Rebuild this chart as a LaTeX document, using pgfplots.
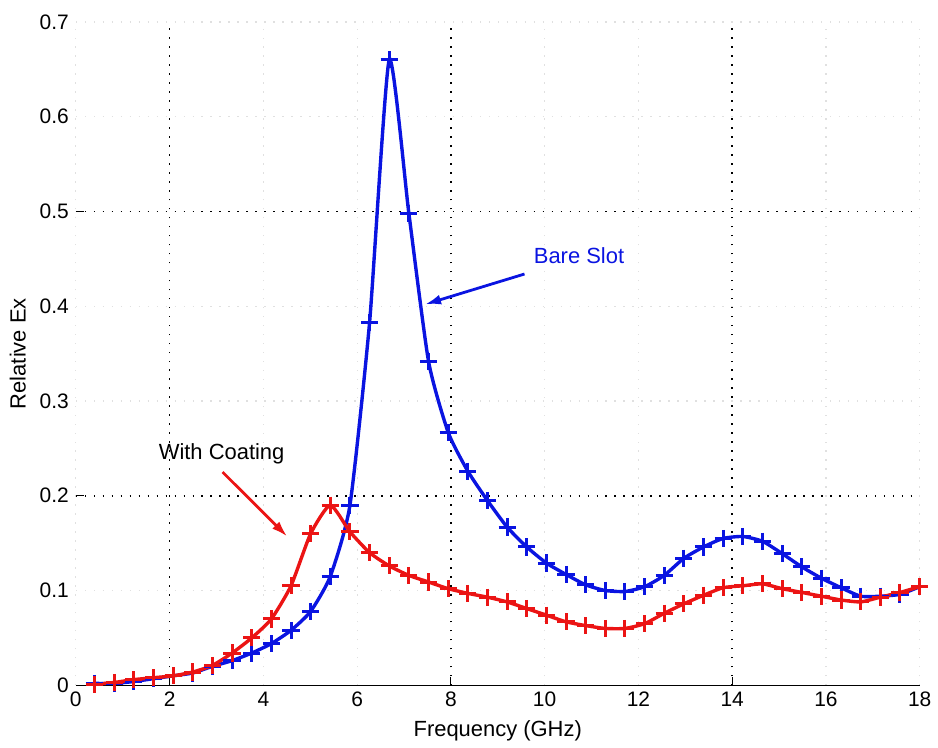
\documentclass[border=0pt]{standalone}
\usepackage{pgfplots}
\pgfplotsset{compat=1.18}
\usepackage{fontspec}
\setmainfont{Liberation Sans}
\usetikzlibrary{arrows.meta}
\definecolor{bslot}{RGB}{10,20,225}
\definecolor{coat}{RGB}{235,20,20}
\begin{document}
\begin{tikzpicture}
\begin{axis}[
  scale only axis,
  width=423pt, height=332.5pt,
  xmin=0, xmax=18, ymin=0, ymax=0.7,
  xtick={0,2,...,18},
  ytick={0,0.1,...,0.7},
  yticklabel style={/pgf/number format/fixed},
  /pgf/number format/assume math mode=true,
  tick label style={font=\fontsize{10.5}{12}\selectfont},
  label style={font=\fontsize{11}{13}\selectfont},
  xlabel={Frequency (GHz)},
  ylabel={Relative Ex},
  axis x line*=bottom, axis y line*=left,
  x axis line style={-, line width=0.8pt},
  y axis line style={draw=none},
  major tick length=0pt,
  tick style={black, line width=0.6pt},
  grid=major,
  major grid style={black!12, line width=0.6pt, dash pattern=on 0.7pt off 3.8pt},
  extra x ticks={2,8,14},
  extra x tick labels={},
  extra y ticks={0.2,0.5},
  extra y tick labels={},
  extra tick style={major tick length=4pt, tick align=inside, grid=major,
    major grid style={black, line width=0.8pt, dash pattern=on 0.8pt off 3.7pt}},
  clip=false,
]
\addplot[bslot, line width=1.7pt, smooth, tension=0.35, mark=+, mark size=4.3pt,
  mark options={solid, line width=1.5pt}] coordinates {
(0.400,0.002) (0.819,0.002) (1.238,0.004) (1.657,0.007) (2.076,0.010)
(2.495,0.013) (2.914,0.020) (3.333,0.026) (3.752,0.034) (4.171,0.044)
(4.590,0.058) (5.009,0.078) (5.428,0.115) (5.847,0.190) (6.266,0.383)
(6.685,0.660) (7.104,0.498) (7.523,0.342) (7.942,0.267) (8.361,0.226)
(8.780,0.195) (9.199,0.167) (9.618,0.146) (10.037,0.129) (10.456,0.117)
(10.875,0.106) (11.294,0.100) (11.713,0.099) (12.132,0.104) (12.551,0.116)
(12.970,0.134) (13.389,0.146) (13.808,0.155) (14.227,0.157) (14.646,0.152)
(15.065,0.139) (15.484,0.125) (15.903,0.113) (16.322,0.103) (16.741,0.094)
(17.160,0.094) (17.579,0.096) (17.998,0.104)
};
\addplot[coat, line width=1.7pt, smooth, tension=0.35, mark=+, mark size=4.3pt,
  mark options={solid, line width=1.5pt}] coordinates {
(0.400,0.001) (0.819,0.003) (1.238,0.006) (1.657,0.008) (2.076,0.010)
(2.495,0.014) (2.914,0.021) (3.333,0.034) (3.752,0.050) (4.171,0.070)
(4.590,0.105) (5.009,0.160) (5.428,0.190) (5.847,0.162) (6.266,0.140)
(6.685,0.126) (7.104,0.116) (7.523,0.109) (7.942,0.102) (8.361,0.097)
(8.780,0.093) (9.199,0.088) (9.618,0.081) (10.037,0.074) (10.456,0.067)
(10.875,0.063) (11.294,0.060) (11.713,0.060) (12.132,0.065) (12.551,0.076)
(12.970,0.086) (13.389,0.095) (13.808,0.103) (14.227,0.105) (14.646,0.107)
(15.065,0.102) (15.484,0.098) (15.903,0.094) (16.322,0.090) (16.741,0.088)
(17.160,0.093) (17.579,0.098) (17.998,0.104)
};
\draw[bslot, line width=1.4pt, -{Latex[length=8pt,width=5pt]}] (axis cs:9.57,0.434) -- (axis cs:7.45,0.402);
\node[bslot, anchor=west, font=\fontsize{11}{13}\selectfont] at (axis cs:9.62,0.453) {Bare Slot};
\draw[coat, line width=1.4pt, -{Latex[length=8pt,width=5pt]}] (axis cs:3.13,0.225) -- (axis cs:4.51,0.157);
\node[black, font=\fontsize{11}{13}\selectfont] at (axis cs:3.11,0.244) {With Coating};
\end{axis}
\path (current axis.south west) ++(-38pt,-30pt) rectangle ++(469pt,373.5pt);
\end{tikzpicture}
\end{document}
